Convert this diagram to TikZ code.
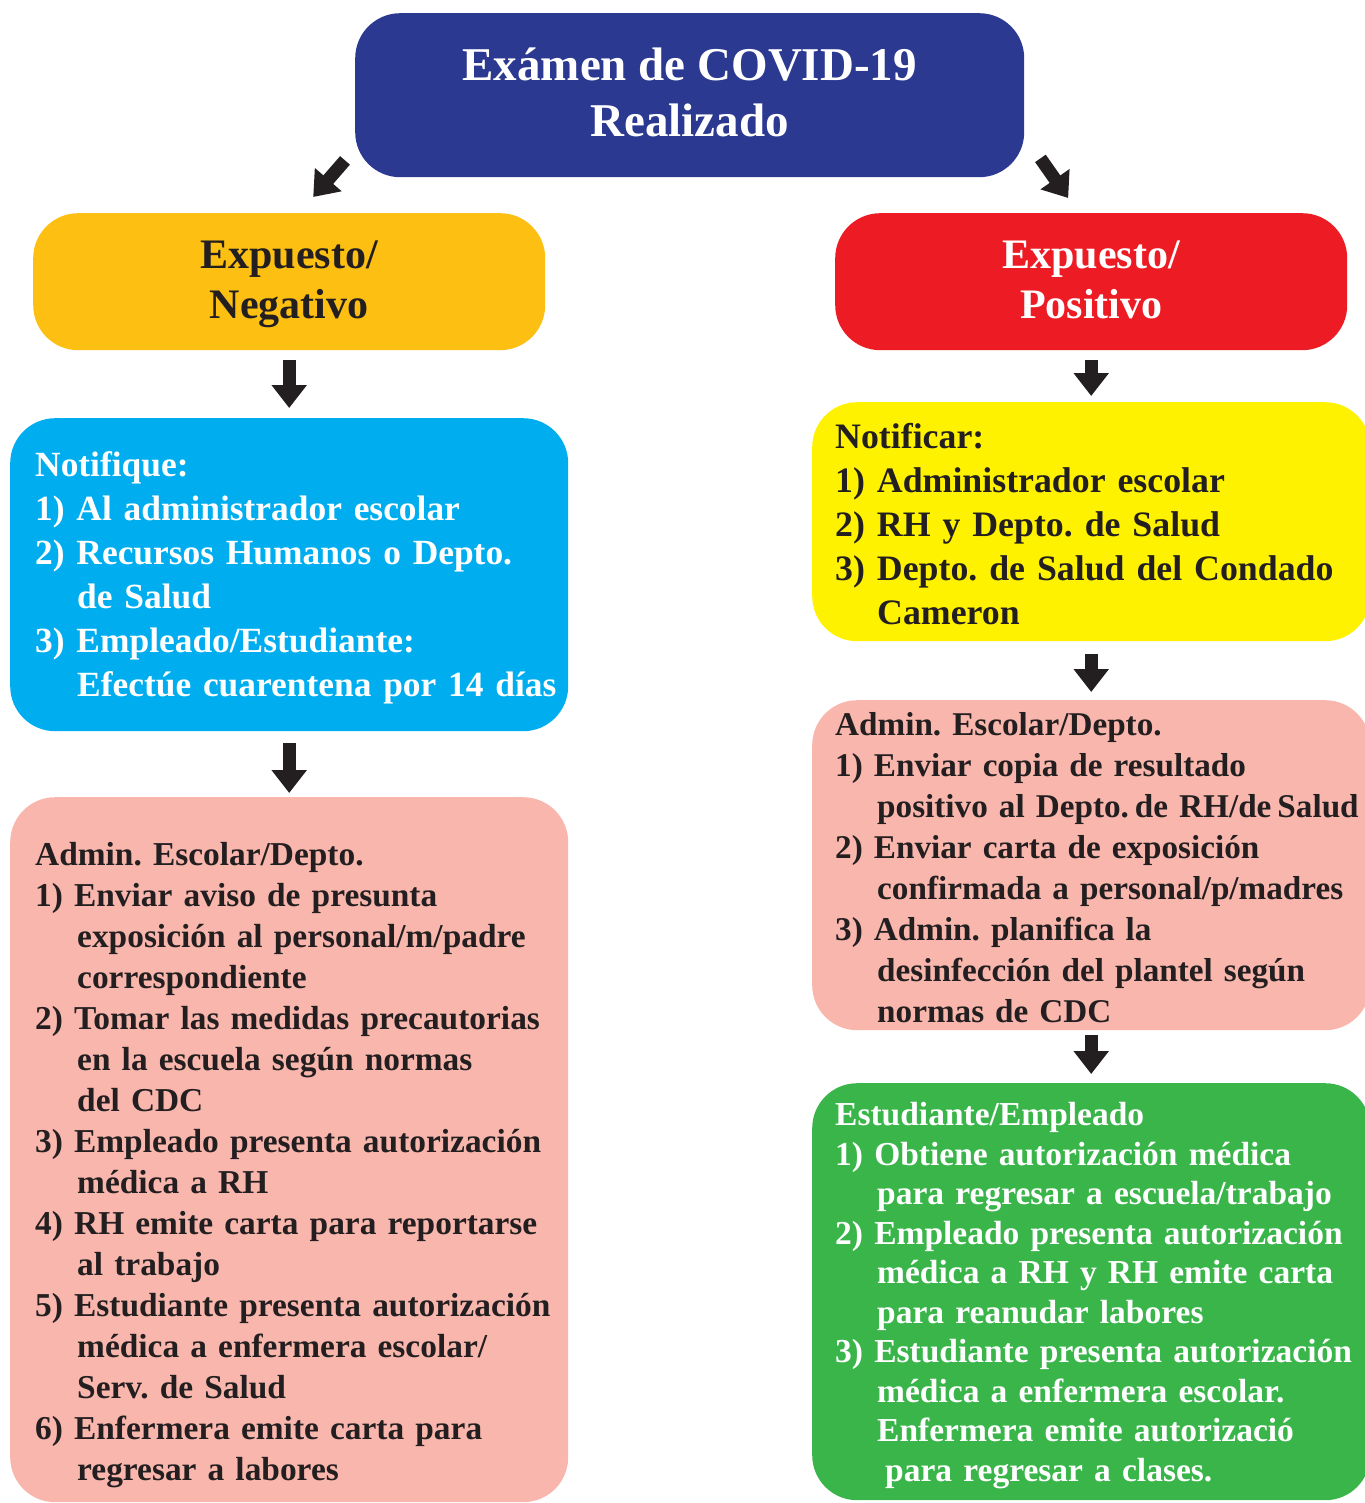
\documentclass[tikz,border=0pt]{standalone}
\usepackage{fontspec}
\setmainfont{Liberation Serif}
\usetikzlibrary{arrows.meta}
\definecolor{titleblue}{HTML}{2B3990}
\definecolor{negamber}{HTML}{FDBF12}
\definecolor{posred}{HTML}{ED1C24}
\definecolor{notcyan}{HTML}{00AEEF}
\definecolor{notyellow}{HTML}{FFF200}
\definecolor{adminpink}{HTML}{F9B6AD}
\definecolor{estgreen}{HTML}{39B54A}
\definecolor{inkdark}{HTML}{231F20}
\frenchspacing
\newlength{\stepspad}
\newcommand{\ind}{\hspace*{42pt}}
% list of steps, #1 = extra room above the first line
\newcommand{\steps}[2][0pt]{\setlength{\stepspad}{\dimexpr.7\baselineskip+#1\relax}%
  \begin{tabular}{@{}l@{}}\rule{0pt}{\stepspad}#2\end{tabular}}
% struts for the centred boxes: #1 above, #2 below
\newcommand{\pads}[3]{\rule{0pt}{#1}#3\rule[-#2]{0pt}{1pt}}
\tikzset{
  box/.style={rectangle, rounded corners=45pt, anchor=north west, inner ysep=0pt},
  listbox/.style={box, align=left, inner xsep=25pt, text width=#1},
  arr/.style={line width=13pt, inkdark, -{Triangle[width=34pt,length=23pt]}}
}
\begin{document}
\begin{tikzpicture}[x=1pt,y=-1pt,font=\bfseries]
  \useasboundingbox (0,0) rectangle (1364,1503);
  % top
  \node[box, fill=titleblue, text=white, align=center, minimum width=669pt, minimum height=164pt,
        font=\bfseries\fontsize{47}{56}\selectfont] (title) at (355,13)
    {\pads{45pt}{19pt}{Exámen de COVID-19\\Realizado}};
  % left column
  \node[box, fill=negamber, text=inkdark, align=center, minimum width=512pt, minimum height=137pt,
        font=\bfseries\fontsize{42}{50}\selectfont] (neg) at (33,213) {\pads{38pt}{14pt}{Expuesto/\\Negativo}};
  \node[listbox=508pt, fill=notcyan, text=white, minimum width=558pt, minimum height=313pt,
        font=\bfseries\fontsize{35.4}{44}\selectfont] (notif) at (10,418)
    {\steps[6pt]{Notifique:\\
     1) Al administrador escolar\\
     2) Recursos Humanos o Depto.\\
     \ind de Salud\\
     3) Empleado/Estudiante:\\
     \ind Efectúe cuarentena por 14 días}};
  \node[listbox=508pt, fill=adminpink, text=inkdark, minimum width=558pt, minimum height=705pt,
        font=\bfseries\fontsize{33.4}{41}\selectfont] (adminL) at (10,797)
    {\steps[31pt]{Admin. Escolar/Depto.\\
     1) Enviar aviso de presunta\\
     \ind exposición al personal/m/padre\\
     \ind correspondiente\\
     2) Tomar las medidas precautorias\\
     \ind en la escuela según normas\\
     \ind del CDC\\
     3) Empleado presenta autorización\\
     \ind médica a RH\\
     4) RH emite carta para reportarse\\
     \ind al trabajo\\
     5) Estudiante presenta autorización\\
     \ind médica a enfermera escolar/\\
     \ind Serv. de Salud\\
     6) Enfermera emite carta para\\
     \ind regresar a labores}};
  % right column
  \node[box, fill=posred, text=white, align=center, minimum width=512pt, minimum height=137pt,
        font=\bfseries\fontsize{42}{50}\selectfont] (pos) at (835,213) {\pads{38pt}{14pt}{Expuesto/\\Positivo}};
  \node[listbox=512pt, fill=notyellow, text=inkdark, minimum width=558pt, minimum height=239pt,
        inner xsep=23pt, font=\bfseries\fontsize{35.8}{44}\selectfont] (notifP) at (812,402)
    {\steps[12pt]{Notificar:\\
     1) Administrador escolar\\
     2) RH y Depto. de Salud\\
     3) Depto. de Salud del Condado\\
     \ind Cameron}};
  \node[listbox=512pt, fill=adminpink, text=inkdark, minimum width=558pt, minimum height=330pt,
        inner xsep=23pt, font=\bfseries\fontsize{33.2}{41}\selectfont] (adminR) at (812,700)
    {\steps{Admin. Escolar/Depto.\\
     1) Enviar copia de resultado\\
     \ind positivo al Depto.\hspace{6pt}de RH/de\hspace{6pt}Salud\\
     2) Enviar carta de exposición\\
     \ind confirmada a personal/p/madres\\
     3) Admin. planifica la\\
     \ind desinfección del plantel según\\
     \ind normas de CDC\\[-12pt]}};
  \node[listbox=512pt, fill=estgreen, text=white, minimum width=558pt, minimum height=417pt,
        inner xsep=23pt, font=\bfseries\fontsize{33.5}{39.5}\selectfont] (estR) at (812,1083)
    {\steps[8pt]{Estudiante/Empleado\\
     1) Obtiene autorización médica\\
     \ind para regresar a escuela/trabajo\\
     2) Empleado presenta autorización\\
     \ind médica a RH y RH emite carta\\
     \ind para reanudar labores\\
     3) Estudiante presenta autorización\\
     \ind médica a enfermera escolar.\\
     \ind Enfermera emite autorizació\\
     \ind\hspace*{8pt}para regresar a clases.}};
  % arrows
  \draw[arr] ([shift={(-10,-17)}]title.south west) -- ([shift={(24,-16)}]neg.north);
  \draw[arr] ([shift={(16,-19)}]title.south east) -- ([shift={(-23,-15)}]pos.north);
  \draw[arr, shorten <=10pt, shorten >=10pt] (neg) -- (notif);
  \draw[arr, shorten <=12pt, shorten >=4pt] (notif) -- (adminL);
  \draw[arr, shorten <=10pt, shorten >=6pt] (pos) -- (notifP);
  \draw[arr, shorten <=13pt, shorten >=8pt] (notifP) -- (adminR);
  \draw[arr, shorten <=5pt, shorten >=9pt] (adminR) -- (estR);
\end{tikzpicture}
\end{document}
